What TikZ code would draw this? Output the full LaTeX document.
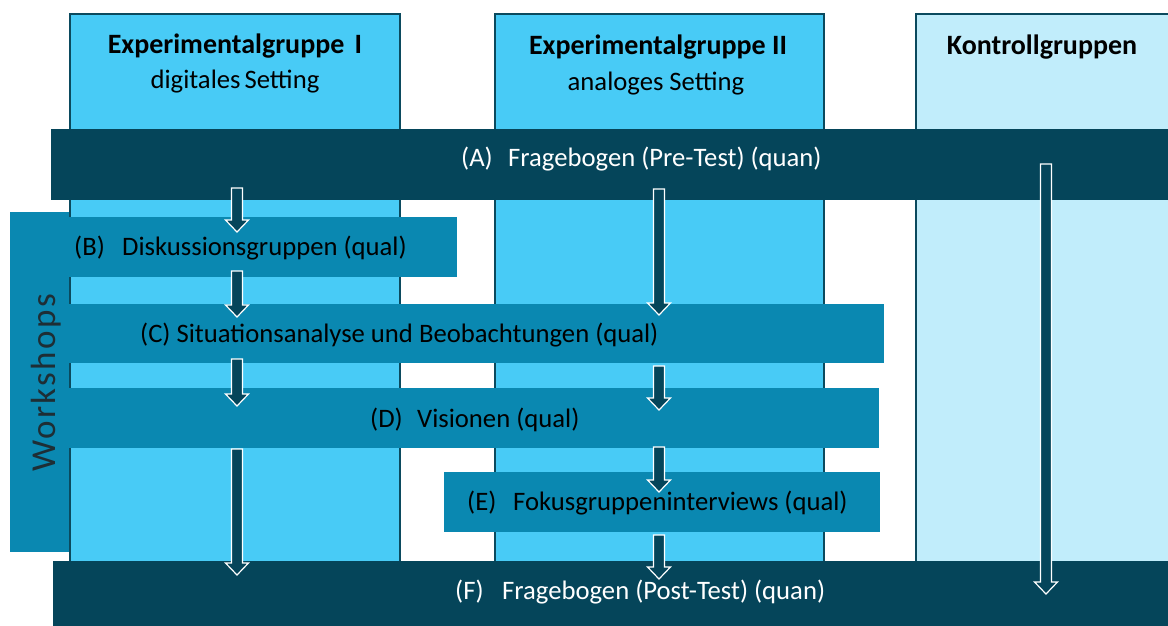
\documentclass[tikz,border=0pt]{standalone}
\usepackage{fontspec}
\setmainfont{Carlito}
\newfontfamily\spacedfont[LetterSpace=7]{Carlito}
\usetikzlibrary{calc}

\definecolor{barDark}{HTML}{05455A}
\definecolor{barMid}{HTML}{0A88B1}
\definecolor{groupFill}{HTML}{48CBF6}
\definecolor{controlFill}{HTML}{C1EDFB}
\definecolor{groupEdge}{HTML}{0B4A5E}
\definecolor{sideText}{HTML}{1E2E35}

% block arrow between two named points (start, tip)
\newcommand\flowarrow[2]{%
  \draw[flowarrow] let \p1=(#1), \p2=(#2) in
    (\x1-5.5pt,\y1) -- (\x1+5.5pt,\y1) -- (\x1+5.5pt,\y2+12pt) --
    (\x1+11.5pt,\y2+12pt) -- (\x1,\y2) -- (\x1-11.5pt,\y2+12pt) --
    (\x1-5.5pt,\y2+12pt) -- cycle;}

\begin{document}
\begin{tikzpicture}[x=1pt,y=-1pt,
  box/.style={rectangle,anchor=north west,inner sep=0pt,outer sep=0pt},
  groupbox/.style={box,draw=groupEdge,line width=2.5pt},
  darkbar/.style={box,fill=barDark},
  midbar/.style={box,fill=barMid},
  txt/.style={inner sep=0pt,anchor=base west,font=\fontsize{26.67}{32}\selectfont},
  title/.style={inner sep=0pt,anchor=base,font=\fontsize{26.67}{32}\selectfont},
  headline/.style={inner sep=0pt,anchor=base,font=\fontsize{28}{34}\selectfont\bfseries},
  flowarrow/.style={fill=barDark,draw=white,line width=1.2pt,line join=miter}]
\useasboundingbox (0,0) rectangle (1168,625);
\fill[white] (0,0) rectangle (1168,625);

% group columns
\node[groupbox,fill=groupFill,minimum width=330pt,minimum height=556pt] (g1) at (70,14) {};
\node[groupbox,fill=groupFill,minimum width=329pt,minimum height=556pt] (g2) at (495,14) {};
\node[groupbox,fill=controlFill,minimum width=262pt,minimum height=556pt] (g3) at (916,14) {};

% column headings
\node[headline] (h1) at (235,53) {Experimentalgruppe\hspace{4pt} I};
\node[title] (s1) at (235,88) {digitales\hspace{-2pt} Setting};
\node[headline] (h2) at (658,54) {Experimentalgruppe II};
\node[title] (s2) at (656,90) {analoges Setting};
\node[headline] (h3) at (1042,54) {Kontrollgruppen};

% phase bars
\node[darkbar,minimum width=1120pt,minimum height=71pt] (A) at (51,129) {};
\node[midbar,minimum width=437pt,minimum height=60pt] (B) at (20,217) {};
\node[midbar,minimum width=864pt,minimum height=59pt] (C) at (20,304) {};
\node[midbar,minimum width=859pt,minimum height=60pt] (D) at (20,388) {};
\node[midbar,minimum width=436pt,minimum height=60pt] (E) at (444,472) {};
\node[darkbar,minimum width=1118pt,minimum height=66pt] (F) at (53,561) {};

% workshop bracket
\node[box,fill=barMid,minimum width=59pt,minimum height=340pt] (ws) at (10,212) {};
\node[inner sep=0pt,rotate=90,anchor=base,text=sideText,font=\fontsize{35}{40}\spacedfont] (wst) at (55,383) {Workshops};

% phase labels
\node[txt,text=white] (tA) at (461,166) {\makebox[47pt][l]{(A)}Fragebogen (Pre-Test) (quan)};
\node[txt,text=black] (tB) at (74,255) {\makebox[48pt][l]{(B)}Diskussionsgruppen (qual)};
\node[txt,text=black] (tC) at (140,342) {(C) Situationsanalyse und Beobachtungen (qual)};
\node[txt,text=black] (tD) at (370,427) {\makebox[47pt][l]{(D)}Visionen (qual)};
\node[txt,text=black] (tE) at (467,510) {\makebox[46pt][l]{(E)}Fokusgruppeninterviews (qual)};
\node[txt,text=white] (tF) at (455,599) {\makebox[47pt][l]{(F)}Fragebogen (Post-Test) (quan)};

% arrow end points
\coordinate (a1s) at (237,188); \coordinate (a1e) at (237,232);
\coordinate (a2s) at (237,271); \coordinate (a2e) at (237,317);
\coordinate (a3s) at (237,359); \coordinate (a3e) at (237,406);
\coordinate (a4s) at (237,449); \coordinate (a4e) at (237,575);
\coordinate (b1s) at (659,189); \coordinate (b1e) at (659,315);
\coordinate (b2s) at (659,366); \coordinate (b2e) at (659,410);
\coordinate (b3s) at (659,447); \coordinate (b3e) at (659,492);
\coordinate (b4s) at (659,535); \coordinate (b4e) at (659,579);
\coordinate (c1s) at (1046,164); \coordinate (c1e) at (1046,594);

\flowarrow{a1s}{a1e}
\flowarrow{a2s}{a2e}
\flowarrow{a3s}{a3e}
\flowarrow{a4s}{a4e}
\flowarrow{b1s}{b1e}
\flowarrow{b2s}{b2e}
\flowarrow{b3s}{b3e}
\flowarrow{b4s}{b4e}
\flowarrow{c1s}{c1e}
\end{tikzpicture}
\end{document}
